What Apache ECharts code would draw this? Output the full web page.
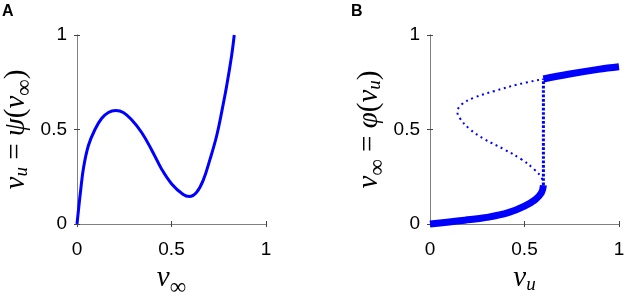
<!DOCTYPE html>
<html>
<head>
<meta charset="utf-8">
<script src="https://cdn.jsdelivr.net/npm/echarts@6/dist/echarts.min.js"></script>
<style>
  html, body { margin: 0; padding: 0; background: #fff; }
  #chart { width: 624px; height: 292px; }
</style>
</head>
<body>
<div id="chart"></div>
<script>
// curve: v_u = psi(v_inf)
var vInf = [0, 0.02, 0.035, 0.06, 0.095, 0.13, 0.166, 0.205, 0.245, 0.289, 0.342, 0.395, 0.448,
            0.501, 0.562, 0.594, 0.633, 0.668, 0.704, 0.739, 0.767, 0.792, 0.818, 0.832];
var vU   = [0, 0.184, 0.30, 0.414, 0.50, 0.558, 0.59, 0.60, 0.59, 0.551, 0.484, 0.392, 0.29,
            0.212, 0.156, 0.145, 0.168, 0.232, 0.343, 0.467, 0.60, 0.731, 0.89, 1.0];
// panel B branches (indices into the arrays above), jump at v_u = 0.6
var lowerIdx = [0, 7];
var middleIdx = [7, 15];
var upperDotIdx = [15, 20];
var upperIdx = [20, 23];
var jumpVu = 0.6;
var ticks = [0, 0.5, 1];

var curveA = vInf.map(function (x, i) { return [x, vU[i]]; });
function branch(r) {
  var out = [];
  for (var i = r[0]; i <= r[1]; i++) out.push([vU[i], vInf[i]]);
  return out;
}
var jump = [[jumpVu, vInf[lowerIdx[1]]], [jumpVu, vInf[upperIdx[0]]]];

var blue = '#0000ff';
var frame = '#808080';
var serif = 'Liberation Serif';
// all tokens top aligned, subscripts pushed down with top padding
var rich = {
  i: { fontFamily: serif, fontStyle: 'italic', fontSize: 29, lineHeight: 42, verticalAlign: 'top', color: '#000' },
  n: { fontFamily: serif, fontSize: 29, lineHeight: 42, verticalAlign: 'top', color: '#000' },
  u: { fontFamily: serif, fontStyle: 'italic', fontSize: 19, lineHeight: 42, verticalAlign: 'top', padding: [11, 0, 0, 0], color: '#000' },
  inf: { fontFamily: serif, fontSize: 23, lineHeight: 42, verticalAlign: 'top', padding: [12, 0, 0, 0], color: '#000' }
};

function xAx(grid, name) {
  return [{
    gridIndex: grid, type: 'value', min: 0, max: 1, interval: 0.5, position: 'bottom',
    name: name, nameLocation: 'middle', nameGap: 40, nameTextStyle: { rich: rich },
    axisLine: { show: true, lineStyle: { color: frame, width: 1 } },
    axisTick: { inside: true, length: 3, lineStyle: { color: '#444' } },
    axisLabel: { margin: 16, color: '#000', fontSize: 19, fontFamily: 'Liberation Sans',
                 formatter: function (v) { return ticks.indexOf(v) >= 0 ? String(v) : ''; } },
    splitLine: { show: false }
  }, {
    gridIndex: grid, type: 'value', min: 0, max: 1, interval: 0.5, position: 'top',
    axisLine: { show: true, lineStyle: { color: frame, width: 1 } },
    axisTick: { inside: true, length: 3, lineStyle: { color: '#444' } },
    axisLabel: { show: false }, splitLine: { show: false }
  }];
}
function yAx(grid, name) {
  return [{
    gridIndex: grid, type: 'value', min: 0, max: 1, interval: 0.5, position: 'left',
    name: name, nameLocation: 'middle', nameGap: 31, nameTextStyle: { rich: rich },
    axisLine: { show: true, lineStyle: { color: frame, width: 1 } },
    axisTick: { inside: true, length: 3, lineStyle: { color: '#444' } },
    axisLabel: { margin: 10, color: '#000', fontSize: 19, fontFamily: 'Liberation Sans' },
    splitLine: { show: false }
  }, {
    gridIndex: grid, type: 'value', min: 0, max: 1, interval: 0.5, position: 'right',
    axisLine: { show: true, lineStyle: { color: frame, width: 1 } },
    axisTick: { inside: true, length: 3, lineStyle: { color: '#444' } },
    axisLabel: { show: false }, splitLine: { show: false }
  }];
}

var myChart = echarts.init(document.getElementById('chart'));
myChart.setOption({
  animation: false,
  backgroundColor: '#fff',
  title: [
    { text: 'A', left: 2, top: 4, padding: 0, textStyle: { fontSize: 16, fontWeight: 'bold', fontFamily: 'Liberation Sans', color: '#000' } },
    { text: 'B', left: 351, top: 4, padding: 0, textStyle: { fontSize: 16, fontWeight: 'bold', fontFamily: 'Liberation Sans', color: '#000' } }
  ],
  grid: [
    { left: 77, top: 35, width: 189, height: 189, outerBoundsMode: 'none' },
    { left: 430, top: 35, width: 189, height: 189, outerBoundsMode: 'none' }
  ],
  xAxis: xAx(0, '{i|v}{inf|∞}').concat(xAx(1, '{i|v}{u|u}')),
  yAxis: yAx(0, '{i|v}{u|u}{n| = }{i|ψ}{n|(}{i|v}{inf|∞}{n|)}').concat(yAx(1, '{i|v}{inf|∞}{n| = }{i|φ}{n|(}{i|v}{u|u}{n|)}')),
  series: [
    { type: 'line', xAxisIndex: 0, yAxisIndex: 0, data: curveA, smooth: 0.4, showSymbol: false, clip: false,
      lineStyle: { color: blue, width: 3 } },
    { type: 'line', xAxisIndex: 2, yAxisIndex: 2, data: branch(lowerIdx), smooth: 0.4, showSymbol: false, clip: false,
      lineStyle: { color: blue, width: 7 } },
    { type: 'line', xAxisIndex: 2, yAxisIndex: 2, data: branch(middleIdx).concat(branch(upperDotIdx).slice(1)), smooth: 0.4,
      showSymbol: false, clip: false, lineStyle: { color: blue, width: 2, type: [2, 3.7] } },
    { type: 'line', xAxisIndex: 2, yAxisIndex: 2, data: jump, showSymbol: false, clip: false,
      lineStyle: { color: blue, width: 3, type: [2.7, 1.7] } },
    { type: 'line', xAxisIndex: 2, yAxisIndex: 2, data: branch(upperIdx), smooth: 0.4, showSymbol: false, clip: false,
      lineStyle: { color: blue, width: 7 } }
  ]
});
window.onresize = myChart.resize;
</script>
</body>
</html>
